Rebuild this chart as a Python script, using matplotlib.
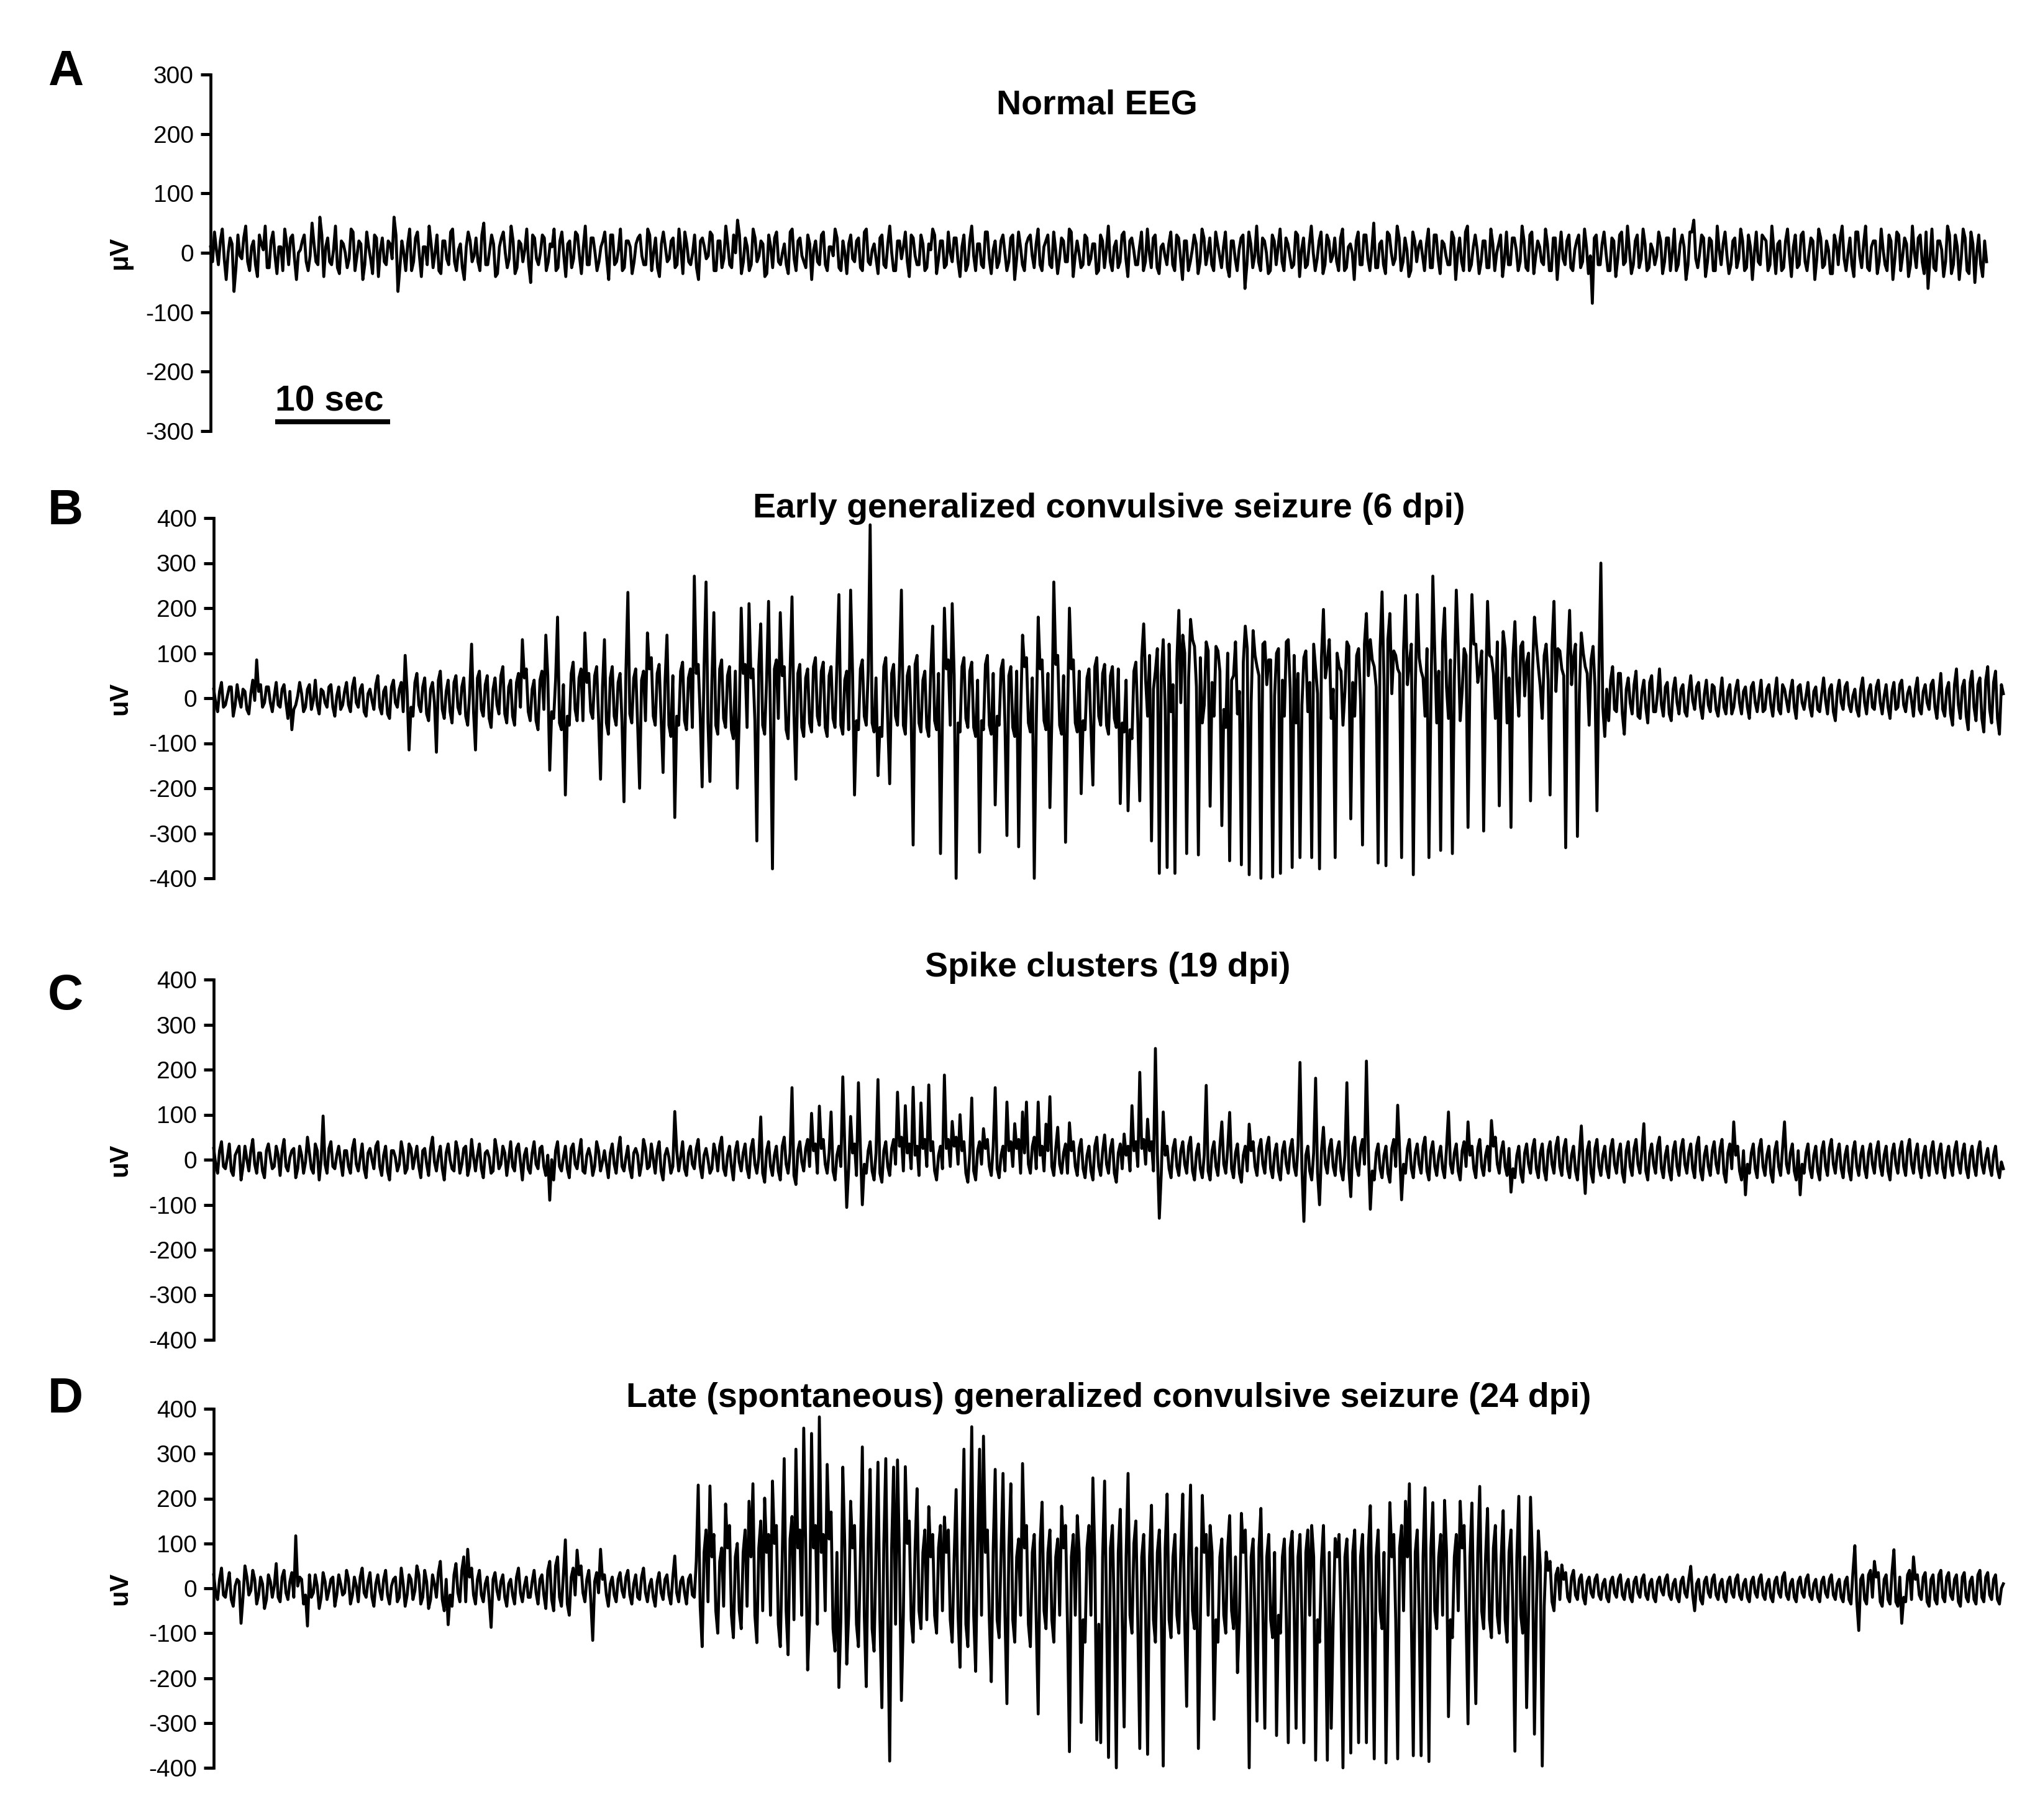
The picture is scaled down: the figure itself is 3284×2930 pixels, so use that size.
import numpy as np
import matplotlib
matplotlib.use("Agg")
import matplotlib.pyplot as plt

plt.rcParams['font.family'] = ['Liberation Sans', 'DejaVu Sans']
plt.rcParams['axes.unicode_minus'] = False

# ---------------- data ----------------
DT = 0.3396  # seconds per coarse sample (10 s scale bar); mid samples sit halfway

panel_letters = ['A', 'B', 'C', 'D']
titles = ['Normal EEG',
          'Early generalized convulsive seizure (6 dpi)',
          'Spike clusters (19 dpi)',
          'Late (spontaneous) generalized convulsive seizure (24 dpi)']
ylabels = ['μV', 'uV', 'uV', 'uV']
yticks_A = [-300, -200, -100, 0, 100, 200, 300]
yticks_BCD = [-400, -300, -200, -100, 0, 100, 200, 300, 400]
scale_bar_s = 10

A_trace = [
    10, 35, -20, 40, -45, 25, -65, 30, -10, 45, -30, 20,
    -40, 15, 45, -25, 35, -35, 10, 40, -20, 30, -45, 5,
    30, -30, 50, -15, 60, -40, 25, -20, 45, -35, 15, -25,
    40, -30, 20, -45, 35, -10, 30, -40, 25, -20, 15, 60,
    -65, 20, -30, 40, -15, 35, -40, 10, 45, -25, 30, -35,
    20, -20, 40, -30, 15, -45, 35, -15, 25, -30, 50, -20,
    30, -40, 10, 35, -25, 45, -35, 20, -15, 40, -50, 25,
    -20, 30, -30, 15, 40, -25, 35, -40, 20, -10, 30, -35,
    45, -20, 25, -30, 10, 35, -45, 30, -15, 40, -25, 20,
    -35, 15, 30, -20, 40, -30, 25, -40, 35, -15, 20, -25,
    40, -35, 15, -20, 30, -45, 25, -10, 35, -30, 20, -25,
    45, -20, 30, 55, -35, 25, -30, 40, -15, 20, -40, 30,
    -25, 35, -20, 15, -35, 40, -30, 25, -15, 30, -45, 20,
    -20, 35, -30, 10, 40, -25, 20, -35, 30, -15, 25, -30,
    40, -20, 15, -35, 30, -25, 45, -30, 20, -10, 35, -40,
    25, -20, 30, -30, 15, 40, -35, 20, -25, 35, -15, 25,
    -40, 30, -20, 45, -30, 15, -25, 35, -35, 20, -15, 30,
    -30, 25, -45, 35, -20, 15, 30, -25, 40, -30, 20, -20,
    35, -35, 25, -15, 40, -40, 20, -25, 30, -20, 15, -35,
    30, -25, 45, -30, 20, -15, 35, -40, 25, -20, 10, -30,
    40, -25, 30, -35, 15, -20, 35, -30, 25, -45, 20, -15,
    30, -35, 40, -20, 25, -30, 15, -25, 35, -40, 20, -30,
    25, -60, 35, -25, 45, -30, 20, -35, 30, -20, 40, -30,
    15, -25, 35, -40, 25, -20, 45, -30, 20, -35, 30, -15,
    25, -30, 40, -25, 15, -45, 35, -20, 30, -30, 50, -25,
    20, -35, 30, -20, 45, -30, 25, -40, 35, -15, 20, -30,
    40, -25, 30, -35, 15, -20, 35, -45, 25, -30, 45, -20,
    30, -35, 20, -25, 40, -30, 15, -40, 35, -20, 25, -30,
    45, -25, 30, -35, 20, -15, 40, -30, 25, -45, 35, -20,
    30, -30, 20, -25, 40, -35, -85, 30, -20, 35, -30, 25,
    -40, 30, -20, 45, -35, 20, -25, 40, -30, 15, -20, 35,
    -35, 25, -30, 40, -20, 30, -45, 35, 55, -25, 30, -40,
    25, -30, 45, -20, 35, -35, 20, -25, 40, -30, 30, -45,
    35, -20, 25, -30, 45, -35, 20, -25, 40, -40, 30, -20,
    35, -30, 25, -45, 40, -25, 20, -35, 30, -20, 45, -30,
    25, -40, 35, -25, 45, -30, 20, -35, 40, -20, 30, -45,
    35, -30, 25, -40, 45, -25, 30, -35, -60, 40, -30, 20,
    -40, 45, -35, 30, -45, 40, -30, 35, -50, 30, -40, -15,
]
A_mid = [
    -15, 5, 20, -10, 0, 15, -25, -5, 25, -15, 10, -20, 30,
    5, -25, 20, -5, 10, -30, 15, 25, -10, 0, 20, -15, -5,
    15, -20, 30, 10, -15, 5, -25, 20, 0, -10, 35, -5, 15,
    -20, 10, -35, 25, 5, -15, 20, -10, 30, -25, 0, 15, -30,
    25, -5, 10, -20, 15, 0, -30, 20, -10, 35, -15, 5, -25,
    10, 20, -5, -15, 30, -20, 5, 15, -35, 25, 0, -10, 20,
    -25, 15, 5, -20, 30, -10, 0, 25, -15, 10, -30, 20, -5,
    15, -25, 35, -5, 10, -20, 25, 0, -15, 20, -10, 30, -20,
    5, -30, 20, 10, -15, 25, -5, -20, 30, 0, -25, 15, 10,
    -10, 25, -20, 5, 35, -15, 0, -25, 20, 10, -5, 30, -30,
    20, -10, 15, -25, 0, 30, -15, 10, -20, 25, -5, 15, -35,
    10, 25, -15, 0, -20, 35, -10, 20, -5, -25, 15, 5, -15,
    30, -20, 10, -5, 25, -30, 0, 15, -10, 20, -25, 35, -15,
    5, -10, 25, -20, 15, 0, -30, 20, 10, -15, 30, -5, -20,
    15, -25, 5, 30, -10, 20, -20, 0, 25, -15, 10, -30, 20,
    -5, 15, -20, 35, -10, 5, -25, 20, 0, -15, 30, -10, 10,
    -30, 25, -5, 15, -20, 10, 30, -25, 5, -10, 20, -15, 35,
    -5, 0, -20, 25, -10, 15, -30, 20, 5, -15, 10, -25, 30,
    -10, 20, 5, -20, 35, -15, 0, 25, -25, 10, -5, 15, -20,
    30, -10, 20, -30, 5, 15, -15, 25, 0, -20, 35, -5, 10,
    -25, 20, -10, 5, 30, -20, 15, -5, -15, 25, 0, -30, 20,
    10, -15, 25, -5, -20, 30, 5, -25, 15, 0, -10, 35, -20,
    20, -5, -15, 25, -30, 10, 0, 20, -20, 30, -10, 5, -25,
    15, -20, 35, 0, -10, 25, -15, 5, -30, 20, 10, -5, 15,
    -25, 30, -10, 20, -5, -20, 25, 0, -15, 35, -30, 10, 5,
    -15, 20, -25, 15, 0, 30, -10, -20, 25, 5, -15, 20, -30,
    35, -5, 10, -20, 15, -30, 25, 0, -10, 20, -25, 5, 30,
    -15, 10, -5, 25, -20, 15, 0, -30, 20, -10, 35, -15, 5,
    -20, 30, -10, 15, -25, 5, -5, 20, -15, 25, 0, -30, 15,
    10, -20, 35, -10, 0, 25, -15, 20, -30, 5, 15, -5, -20,
    25, -10, 20, -25, 10, 0, -15, 30, 20, -20, 5, 15, -30,
    20, -5, 10, -25, 30, -15, 0, 20, -10, 25, -20, 5, -35,
    15, 25, -10, 0, -20, 35, -5, 15, -25, 10, 20, -15, 5,
    -30, 20, -10, 30, -5, 15, -20, 0, 25, -15, 35, -10, -25,
    20, 5, -15, 30, -20, 10, -10, 25, -35, 15, 0, -20, 20,
]

B_background = [
    20, -30, 35, -15, 25, -40, 30, -20, 15, -35, 40, -25, 30, -10, 25, -30, 35,
    -20, 30, -45, 25, -15, 35, -30, 20, -25, 40, -35, 15, -20, 30, -40, 25, -15,
    35, -30, 45, -20, 30, -40, 20, -25, 50, -35, 25, -45, 40, -20, 35, -50, 30,
    -40, 55, -30, 45, -50, 35, -25, 60, -45, 40, -55, 50, -35, 45, -60, 30, -45,
    60, -40, 50, -65, 45, -35, 70, -55, 40, -60, 55, -45, 65, -50, 40, -70, 60,
    -55, 75, -45, 60, -70, 50, -60, 80, -50, 65, -75, 55, -45, 70, -65, 50, -80,
    70, -60, 55, -75, 85, -55, 65, -80, 60, -70, 90, -60, 75, -65, 55, -85, 70,
    -60, 80, -70, 65, -85, 75, -55, 90, -75, 60, -80, 85, -65, 70, -90, 80, -60,
    75, -85, 65, -70, 90, -80, 60, -75, 85, -65, 70, -90, 80, -55, 75, -85, 65,
    -75, 90, -60, 80, -85, 70, -65, 95, -80, 60, -90, 75, -70, 85, -60, 80, -75,
    65, -85, 90, -70, 75, -60, 85, -80, 70, -65, 95, -75, 60, -85, 80, -70, 75,
    -60, 85, -80, 70, -75, 90, -65, 80, -85, 60, -70, 95, -80, 75, -60, 85, -75,
    70, -85, 80, -60, 90, -75, 65, -80, 85, -70, 75, -65, 95, -80, 70, -60, 85,
    -75, 80, -70, 65, -85, 90, -60, 75, -80, 70, -65, 85, -75, 60, -90, 80, -70,
    110, -40, 120, 60, -50, 130, 90, -30, 100, -60, 140, 70, -45, 115, 85, -55, 125,
    60, -40, 105, 80, -65, 120, 50, -35, 135, 95, -50, 110, 70, -45, 125, 85, -60,
    100, 60, -40, 130, 75, -55, 115, 90, -30, 120, 65, -50, 140, 80, -45, 105, 70,
    -60, 125, 55, -40, 110, 85, -55, 130, 70, -35, 120, 90, -50, 105, 65, -45, 135,
    80, -60, 115, 60, -40, 125, 95, -55, 100, 75, -45, 130, 70, -50, 110, 85, -35,
    120, 65, -60, 105, 90, -45, 130, 75, -55, 115, 60, -40, 125, 80, -50, 100, 70,
    -45, 120, 85, -55, 110, 65, -40, 130, 90, -50, 105, 70, -60, 115, 80, 40, 65,
    -50, 70, -30, 55, -80, 45, -35, 60, -45, 40, -55, 50, -30, 65, -40, 35, -50,
    45, -35, 30, -40, 50, -25, 35, -45, 40, -30, 25, -40, 45, -35, 30, -20, 40,
    -35, 25, -45, 35, -30, 40, -25, 30, -40, 45, -35, 20, -30, 40, -45, 30, -25,
    35, -40, 25, -30, 45, -35, 30, -50, 40, -25, 35, -30, 20, -40, 45, -35, 30,
    -25, 40, -35, 30, -45, 35, -20, 40, -30, 25, -40, 45, -35, 30, -25, 40, -45,
    55, -40, 35, -60, 65, -45, 40, -70, 60, -50, 45, -75, 70, -55, 60, -80, 10,
]
B_mid = [
    -10, 15, -20, 5, 25, -15, 0, 20, -25, 10, -5, 15, -20, 25, -10, 5, -15,
    20, -10, 15, -25, 5, 10, -20, 30, -5, -15, 20, -10, 25, -20, 5, -25, 15,
    -15, 25, -10, 20, -30, 10, -5, 30, -20, 15, -35, 25, -10, 20, -30, 15, -20,
    35, -15, 25, -35, 20, -10, 40, -25, 15, -30, 35, -20, 25, -40, 10, -30, 45,
    -25, 30, -45, 20, -15, 50, -35, 25, -40, 35, -20, 45, -30, 20, -50, 40, -25,
    50, -30, 40, -55, 30, -40, 55, -25, 45, -50, 35, -30, 50, -45, 25, -55, 45,
    -40, 35, -55, 60, -35, 45, -60, 40, -50, 65, -40, 55, -45, 35, -60, 50, -40,
    60, -50, 45, -65, 55, -35, 70, -55, 40, -60, 65, -45, 50, -70, 60, -40, 55,
    -65, 45, -50, 70, -60, 40, -55, 65, -45, 50, -70, 60, -35, 55, -65, 45, -55,
    70, -40, 60, -65, 50, -45, 75, -60, 40, -70, 55, -50, 65, -40, 60, -55, 45,
    -65, 70, -50, 55, -40, 65, -60, 50, -45, 75, -55, 40, -65, 60, -50, 55, -40,
    65, -60, 50, -55, 70, -45, 60, -65, 40, -50, 75, -60, 55, -40, 65, -55, 50,
    -65, 60, -40, 70, -55, 45, -60, 65, -50, 55, -45, 75, -60, 50, -40, 65, -55,
    60, -50, 45, -65, 70, -40, 55, -60, 50, -45, 65, -55, 40, -70, 60, -50, 90,
    40, 95, 20, 110, 50, -20, 120, 30, 85, -10, 100, 45, 130, 25, 90, -15, 105,
    35, 115, 60, -25, 100, 40, 125, 15, 80, 110, -10, 95, 50, 120, 30, 85, 5,
    110, 40, 125, 20, 95, 55, -15, 105, 35, 120, 10, 90, 45, 130, 20, 100, 60,
    15, 115, 35, 95, -5, 120, 50, 85, 25, 110, 40, 130, 10, 95, 55, 105, 30,
    120, 20, 90, 45, 110, -10, 100, 60, 125, 25, 85, 40, 115, 15, 95, 50, 120,
    35, 105, 10, 95, 55, 125, 20, 110, 45, 90, 30, 115, 5, 100, 60, 120, 25,
    95, 40, 115, 15, 105, 50, 90, 30, 120, 10, 100, 55, 85, 25, 60, -20, 20,
    40, -25, 55, -35, 20, -10, 30, -40, 15, -20, 35, -30, 10, -15, 25, -35, 20,
    -10, 20, -30, 15, -5, 25, -20, 10, -15, 30, -25, 5, -20, 15, -35, 20, -10,
    15, -20, 25, -10, 5, -30, 20, -15, 10, -25, 30, -5, 15, -20, 25, -10, 5,
    -20, 15, -25, 10, -5, 20, -30, 15, -10, 25, -15, 5, -25, 20, -10, 15, -20,
    25, -10, 5, -20, 15, -25, 30, -15, 10, -5, 20, -25, 15, -10, 30, -20, 10,
    -25, 20, -35, 30, -15, 25, -40, 35, -20, 30, -45, 40, -25, 35, -45, 30, 0,
]
B_spike_idx = [
    11, 20, 49, 50, 57, 66, 67, 79, 85, 86, 88, 90, 95, 99, 100, 105, 106, 109,
    111, 115, 116, 118, 123, 125, 126, 127, 128, 134, 135, 137, 139, 140, 142,
    143, 145, 148, 149, 160, 163, 164, 168, 170, 173, 176, 179, 184, 186, 187,
    189, 190, 196, 200, 203, 206, 207, 210, 211, 214, 215, 218, 219, 222, 225,
    232, 234, 237, 238, 240, 242, 244, 246, 247, 249, 250, 252, 255, 258, 260,
    263, 264, 265, 266, 268, 271, 273, 276, 278, 281, 283, 284, 287, 291, 294,
    295, 298, 299, 300, 301, 304, 305, 307, 308, 311, 312, 314, 315, 317, 318,
    321, 322, 325, 326, 329, 330, 332, 333, 337, 338, 342, 343, 346, 347, 349,
    350, 354, 355, 356,
]
B_spike_val = [
    85, -70, 95, -115, -120, 120, -115, 130, 140, -160, 180, -215, 145, -180, 130, -230, 235, -200,
    145, -165, 140, -265, 271, -197, 258, -185, 190, -200, 200, 210, -317, 165, 215,
    -379, 190, 225, -180, 230, 240, -215, 385, -172, -190, 240, -326, 160, -345, 200,
    210, -400, -342, -237, -305, -330, 140, -400, 180, -243, 258, -320, 200, -212, -193,
    -234, -250, -228, 165, -317, -389, -376, -389, 195, -345, 175, -348, -240, -283, -361,
    -370, 160, -392, 150, -400, -397, -389, -376, -354, -354, -379, 197, -354, -268, -326,
    188, -366, 236, -372, 188, -354, 228, -392, 230, -354, 271, -338, 200, -345, 240,
    -287, 230, -295, 215, -239, 148, -287, 170, -228, 180, -215, 215, -332, 195, -307,
    145, -250, 300, -85,
]

C_background = [
    25, -30, 40, -20, 35, -35, 20, -45, 30, -25, 45, -30, 15, -40, 35, -20, 30,
    -35, 45, -25, 20, -40, 30, -30, 50, -20, 35, -45, 25, -30, 40, -20, 30, -35,
    20, -30, 45, -25, 35, -40, 25, -20, 40, -35, 30, -45, 20, -25, 40, -30, 35,
    -20, 30, -40, 25, -35, 50, -25, 30, -45, 35, -20, 40, -30, 25, -35, 45, -25,
    35, -40, 20, -30, 45, -20, 30, -35, 40, -25, 35, -45, 25, -30, 40, -20, 30,
    -35, 25, -45, 40, -25, 30, -40, 35, -20, 45, -30, 25, -35, 40, -25, 20, -40,
    35, -30, 50, -25, 30, -40, 25, -35, 45, -20, 35, -30, 40, -45, 25, -30, 35,
    -25, 40, -35, 30, -20, 45, -40, 25, -30, 35, -25, 50, -35, 30, -45, 40, -25,
    35, -40, 45, -30, 25, -50, 40, -35, 30, -45, 50, -30, 35, -55, 40, -25, 45,
    -40, 35, -50, 45, -30, 40, -45, 30, -35, 50, -40, 35, -55, 45, -30, 40, -45,
    35, -50, 40, -35, 45, -30, 50, -45, 35, -40, 30, -55, 45, -35, 40, -45, 30,
    -40, 45, -35, 50, -30, 40, -50, 35, -45, 40, -30, 45, -35, 50, -40, 30, -45,
    40, -35, 45, -50, 35, -30, 50, -40, 30, -45, 40, -35, 45, -30, 35, -50, 40,
    -35, 45, -40, 30, -45, 50, -35, 40, -30, 45, -50, 35, -40, 30, -45, 40, -35,
    45, -30, 40, -45, 35, -50, 30, -40, 45, -35, 40, -30, 50, -45, 35, -40, 30,
    -45, 40, -35, 50, -30, 45, -40, 35, -50, 30, -45, 40, -35, 45, -30, 50, -40,
    35, -45, 40, -30, 45, -35, 50, -40, 30, -45, 35, -50, 40, -30, 45, -35, 40,
    -45, 30, -40, 50, -35, 45, -30, 40, -45, 35, -40, 30, -50, 45, -35, 40, -30,
    45, -40, 35, -30, 50, -45, 40, -35, 30, -40, 45, -30, 35, -45, 40, -35, 30,
    -40, 45, -35, 30, -45, 50, -30, 40, -35, 45, -40, 30, -50, 35, -30, 45, -40,
    35, -45, 40, -30, 50, -35, 45, -40, 30, -45, 35, -30, 40, -50, 45, -35, 30,
    -40, 45, -30, 35, -50, 40, -35, 45, -30, 40, -45, 35, -30, 50, -40, 30, -45,
    40, -35, 45, -30, 35, -40, 50, -45, 30, -35, 40, -30, 45, -50, 35, -40, 30,
    -45, 40, -30, 35, -40, 45, -35, 30, -50, 40, -35, 45, -30, 35, -45, 40, -30,
    35, -40, 30, -45, 40, -35, 45, -30, 35, -40, 30, -45, 40, -35, 30, -40, 35,
    -30, 40, -35, 30, -45, 35, -30, 40, -35, 45, -30, 35, -40, 30, -35, 40, -30,
    35, -40, 30, -35, 40, -30, 35, -40, 30, -35, 40, -30, 25, -35, 30, -40, -20,
]
C_mid = [
    -10, 20, -15, 5, -25, 10, 30, -15, 0, 20, -10, 15, -25, 20, 5, -15, 10,
    20, -15, 5, 25, -20, 10, -5, 15, -30, 20, 0, -10, 25, -15, 10, -5, 20,
    -15, 25, -10, 5, -20, 15, 0, 30, -15, 10, -25, 20, 5, -10, 15, -20, 25,
    5, -15, 20, -10, 25, -5, 10, -20, 15, 0, -25, 20, -10, 30, -15, 5, 10,
    -20, 15, 5, -25, 20, -10, 15, 0, -15, 25, -5, 10, -20, 15, -10, 25, -15,
    10, 0, 20, -15, 5, -20, 25, -10, 15, -25, 10, 5, -15, 20, -5, -10, 15,
    -10, 20, -15, 5, -20, 15, 10, -10, 25, -15, 0, 20, -25, 10, 5, -15, 20,
    5, -20, 15, -10, 25, -15, 10, 0, -20, 15, 30, -20, 10, -15, 20, -5, 15,
    -20, 25, -10, 5, -30, 20, -15, 10, -25, 30, -10, 15, -35, 20, -5, 25, -15,
    20, -30, 25, -10, 15, -25, 10, -15, 30, -20, 15, -35, 25, -10, 20, -25, 15,
    -30, 20, -15, 25, -10, 30, -25, 15, -20, 10, -35, 25, -15, 20, -25, 10, -20,
    25, -15, 30, -10, 20, -30, 15, -25, 20, -10, 25, -15, 30, -20, 10, -25, 20,
    -15, 25, -30, 15, -10, 30, -20, 10, -25, 20, -15, 25, -10, 15, -30, 20, -15,
    25, -20, 10, -25, 30, -15, 20, -10, 25, -30, 15, -20, 10, -25, 20, -15, 25,
    -10, 20, -25, 15, -30, 10, -20, 25, -15, 20, -10, 30, -25, 15, -20, 10, -25,
    20, -15, 30, -10, 25, -20, 15, -30, 10, -25, 20, -15, 25, -10, 30, -20, 15,
    -25, 20, -10, 25, -15, 30, -20, 10, -25, 15, -30, 20, -10, 25, -15, 20, -25,
    10, -20, 30, -15, 25, -10, 20, -25, 15, -20, 10, -30, 25, -15, 20, -10, 25,
    -20, 15, -10, 30, -25, 20, -15, 10, -20, 25, -10, 15, -25, 20, -15, 10, -20,
    25, -15, 10, -25, 30, -10, 20, -15, 25, -20, 10, -30, 15, -10, 25, -20, 15,
    -25, 20, -10, 30, -15, 25, -20, 10, -25, 15, -10, 20, -30, 25, -15, 10, -20,
    25, -10, 15, -30, 20, -15, 25, -10, 20, -25, 15, -10, 30, -20, 10, -25, 20,
    -15, 25, -10, 15, -20, 30, -25, 10, -15, 20, -10, 25, -30, 15, -20, 10, -25,
    20, -10, 15, -20, 25, -15, 10, -30, 20, -15, 25, -10, 15, -25, 20, -10, 15,
    -20, 10, -25, 20, -15, 25, -10, 15, -20, 10, -25, 20, -15, 10, -20, 15, -10,
    20, -15, 10, -25, 15, -10, 20, -15, 25, -10, 15, -20, 10, -15, 20, -10, 15,
    -20, 10, -15, 20, -10, 15, -20, 10, -15, 20, -10, 5, -15, 10, -20, -5, 0,
]
C_spike_idx = [
    28, 86, 118, 140, 148, 153, 155, 158, 161, 162, 163, 165, 166, 170, 175, 177,
    179, 181, 183, 187, 189, 191, 194, 197, 200, 203, 205, 207, 208, 211, 213,
    214, 216, 219, 228, 233, 235, 237, 239, 241, 242, 243, 254, 258, 260, 265,
    278, 279, 282, 283, 284, 290, 291, 295, 296, 303, 304, 316, 321, 327, 332,
    350, 351, 366, 389, 392, 402, 406,
]
C_spike_val = [
    97, -90, 107, 95, 160, 103, 119, 106, 184, -106, 96, 171, -100, 178, 150, 120,
    161, 126, 166, 188, 85, 100, 137, 69, 160, 128, 80, 106, 128, 128, 79,
    140, 72, 82, 55, 57, 120, 194, 90, 247, -130, 106, 165, 84, 105, 79,
    216, -137, 181, -100, 72, 171, -82, 219, -110, 121, -89, 106, 84, 87, -72,
    75, -75, 80, 84, -78, 84, -78,
]

D_background = [
    30, -25, 45, -20, 35, -40, 20, -30, 50, -15, 40, -35, 25, -45, 30, -20, 55,
    -30, 40, -25, 35, -40, 25, -35, 45, -20, 30, -45, 35, -25, 20, -40, 30, -15,
    40, -35, 25, -30, 45, -20, 35, -40, 30, -25, 40, -35, 20, -30, 45, -40, 30,
    -25, 50, -35, 40, -45, 30, -20, 60, -50, 35, -40, 55, -30, 70, -55, 45, -35,
    40, -30, 25, -45, 35, -25, 30, -40, 20, -35, 45, -30, 25, -20, 40, -35, 30,
    -45, 60, -50, 70, -40, 55, -60, 45, -35, 50, -30, 40, -45, 35, -25, 30, -40,
    25, -30, 35, -20, 40, -35, 30, -25, 45, -30, 20, -40, 35, -25, 30, -35, 40,
    -30, 25, -35, 30, -20, 110, -80, 130, -60, 120, -100, 90, -70, 140, -110, 100, -90,
    130, -70, 110, -120, 150, -90, 120, -100, 140, -130, 110, -80, 160, -120, 130, -110, 150,
    -100, 140, -130, 120, -90, 170, -140, 130, -120, 150, -110, 140, -130, 120, -100, 160, -140,
    130, -120, 150, -110, 140, -130, 120, -100, 150, -120, 140, -90, 130, -110, 120, -100, 140,
    -80, 130, -120, 110, -90, 140, -130, 120, -110, 150, -100, 130, -120, 140, -110, 120, -100,
    130, -120, 110, -100, 140, -130, 120, -110, 150, -90, 130, -120, 110, -100, 140, -130, 120,
    -110, 130, -120, 140, -100, 120, -130, 110, -90, 140, -120, 130, -110, 120, -100, 150, -130,
    120, -100, 110, -120, 130, -90, 140, -110, 120, -100, 130, -120, 110, -90, 140, -110, 120,
    -100, 130, -120, 110, -100, 140, -90, 120, -110, 130, -100, 110, -120, 140, -90, 120, -110,
    130, -100, 110, -120, 140, -90, 120, -110, 130, -100, 110, -120, 100, -90, 130, -110, 120,
    -100, 110, -90, 130, -110, 120, -100, 140, -120, 110, -90, 130, -100, 120, -110, 140, -90,
    120, -110, 130, -100, 110, -120, 140, -90, 120, -100, 130, -110, 120, -90, 140, -100, 110,
    -120, 130, -90, 120, -110, 140, -100, 110, -120, 130, -90, 120, -100, 110, -80, 90, -70,
    80, -60, 60, -50, 45, -40, 35, -30, 40, -25, 30, -35, 25, -20, 30, -25, 20,
    -30, 25, -20, 30, -25, 20, -30, 25, -20, 30, -25, 20, -30, 25, -15, 30, -25,
    20, -30, 25, -20, 30, -25, 20, -35, 25, -20, 30, -25, 20, -30, 25, -20, 30,
    -25, 20, -30, 25, -20, 30, -25, 20, -30, 25, -20, 35, -25, 20, -30, 25, -20,
    30, -25, 20, -30, 25, -20, 30, -25, 20, -30, 25, -35, 45, -40, 30, -35, 40,
    -30, 35, -40, 30, -35, 45, -40, 35, -30, 40, -35, 30, -25, 35, -40, 30, -35,
    40, -30, 35, -25, 30, -40, 35, -30, 25, -35, 40, -30, 35, -25, 30, -35, 10,
]
D_mid = [
    -10, 20, -15, 10, -25, 5, 15, -20, 25, -5, 20, -15, 10, -25, 15, 5, -20,
    25, -10, 15, -20, 5, 20, -15, 30, -10, 5, -20, 15, -5, 25, -15, 10, -10,
    20, -15, 5, 25, -10, 15, -20, 10, -5, 20, -15, 5, 25, -20, 10, -15, 20,
    -5, 30, -20, 15, -25, 10, 35, -25, 20, -15, 30, -10, 40, -30, 25, -15, 20,
    -15, 10, -25, 20, -5, 15, -20, 10, -15, 25, -10, 5, -20, 15, -10, 20, -15,
    40, -25, 50, -20, 30, -35, 25, -15, 30, -10, 20, -25, 15, -10, 20, -15, 10,
    -15, 20, -5, 25, -15, 10, -20, 25, -10, 5, -20, 15, -10, 20, -15, 25, -10,
    15, -10, 20, -15, 60, -40, 80, -30, 70, -50, 60, -40, 90, -60, 70, -50, 80,
    -40, 70, -60, 90, -50, 80, -60, 100, -80, 70, -50, 110, -70, 90, -60, 100, -70,
    90, -80, 80, -50, 110, -90, 80, -70, 100, -60, 90, -80, 70, -60, 110, -90, 80,
    -70, 100, -60, 90, -80, 70, -60, 100, -70, 90, -50, 80, -70, 70, -60, 90, -50,
    80, -70, 70, -60, 90, -80, 80, -60, 100, -60, 80, -70, 90, -70, 80, -60, 90,
    -70, 70, -60, 90, -80, 80, -70, 100, -50, 80, -70, 70, -60, 90, -80, 70, -60,
    80, -70, 90, -60, 70, -80, 70, -50, 90, -70, 80, -70, 70, -60, 100, -80, 70,
    -60, 70, -70, 80, -50, 90, -70, 70, -60, 80, -70, 70, -50, 90, -70, 80, -60,
    80, -70, 70, -60, 90, -50, 70, -70, 80, -60, 70, -70, 90, -50, 70, -70, 80,
    -60, 70, -70, 90, -50, 70, -70, 80, -60, 70, -70, 60, -50, 80, -70, 70, -60,
    70, -50, 80, -70, 70, -60, 90, -70, 70, -50, 80, -60, 70, -70, 90, -50, 70,
    -70, 80, -60, 70, -70, 90, -50, 70, -60, 80, -70, 70, -50, 90, -60, 70, -70,
    80, -50, 70, -70, 90, -60, 70, -70, 80, -50, 70, -60, 70, -50, 60, -40, 50,
    -40, 40, -30, 30, -25, 20, -20, 25, -15, 20, -20, 15, -10, 20, -15, 10, -20,
    15, -10, 20, -15, 10, -20, 15, -10, 20, -15, 10, -20, 15, -5, 20, -15, 10,
    -20, 15, -10, 20, -15, 10, -25, 15, -10, 20, -15, 10, -20, 15, -10, 20, -15,
    10, -20, 15, -10, 20, -15, 10, -20, 15, -10, 25, -15, 10, -20, 15, -10, 20,
    -15, 10, -20, 15, -10, 20, -15, 10, -20, 15, -25, 35, -30, 20, -25, 30, -20,
    25, -30, 20, -25, 35, -30, 25, -20, 30, -25, 20, -15, 25, -30, 20, -25, 30,
    -20, 25, -15, 20, -30, 25, -20, 15, -25, 30, -20, 25, -15, 20, -25, 0, 0,
]
D_spike_idx = [
    7, 21, 24, 60, 65, 71, 90, 93, 97, 99, 118, 124, 125, 127, 131, 137, 138, 139,
    141, 143, 146, 147, 149, 151, 152, 153, 155, 157, 160, 161, 162, 163, 166, 167,
    168, 170, 171, 172, 173, 174, 175, 176, 177, 180, 183, 187, 190, 191, 192, 194,
    195, 196, 197, 199, 200, 202, 203, 204, 207, 211, 212, 217, 219, 221, 222, 225,
    226, 227, 228, 229, 231, 232, 233, 234, 237, 239, 240, 243, 244, 248, 249, 250,
    252, 253, 255, 256, 260, 262, 263, 265, 267, 268, 269, 272, 275, 276, 277, 279,
    281, 282, 284, 285, 286, 287, 289, 291, 293, 295, 296, 297, 298, 300, 301, 303,
    305, 306, 307, 309, 310, 311, 312, 315, 316, 319, 321, 322, 323, 324, 326, 330,
    333, 334, 336, 337, 338, 339, 340, 341, 345, 378, 379, 420, 421, 425, 430, 432,
    435,
]
D_spike_val = [
    -78, 117, -84, -81, 87, -87, 108, 85, -116, 87, 72, 230, -130, 228, 188, 194, 233, -121,
    201, 239, 289, -148, 310, 357, -182, 345, 382, 276, -221, 270, -169, 194, 315, -219,
    265, 281, -266, 289, -385, 270, 286, -250, 271, 222, 182, 159, 220, -176, 310, 360,
    -185, 310, 339, -208, 265, 256, -257, 233, 278, -280, 192, 183, -364, 162, -299, 246,
    -338, -344, 239, -377, -400, 176, -309, 256, -357, -370, 185, -396, 210, 210, -263, 230,
    -357, 207, 140, -292, 162, -188, 167, -400, -296, 178, -312, -328, -344, 127, -312, -344,
    140, -383, 140, -383, -312, 111, -400, -367, -344, -344, 184, -380, 130, -389, 191, -380,
    194, 233, -373, -373, 224, -386, 191, 196, -286, 194, -302, 190, -257, 227, 178, 173,
    -363, 205, -266, 203, -325, 128, -396, 81, 52, 49, -50, 95, -94, 60, 86, -78,
    70,
]


# ---------------- build traces ----------------
def build(coarse, mid, idx=None, val=None):
    c = np.array(coarse, dtype=float)
    if idx is not None:
        c[np.array(idx)] = np.array(val, dtype=float)
    m = np.array(mid, dtype=float)[:len(c) - 1]
    t = np.concatenate([np.arange(len(c)), np.arange(len(m)) + 0.5]) * DT
    y = np.concatenate([c, m])
    order = np.argsort(t, kind='stable')
    return t[order], y[order]


traces = [build(A_trace, A_mid),
          build(B_background, B_mid, B_spike_idx, B_spike_val),
          build(C_background, C_mid, C_spike_idx, C_spike_val),
          build(D_background, D_mid, D_spike_idx, D_spike_val)]

# ---------------- layout (pixels of the 3284x2930 figure) ----------------
W, H = 3284, 2930
fig = plt.figure(figsize=(W / 100, H / 100), dpi=100)

# left, right, top(y of max tick), bottom(y of min tick)
boxes = [(339, 3198, 120, 694),
         (344, 3225, 834, 1414),
         (344, 3225, 1577, 2157),
         (344, 3225, 2268, 2846)]
letter_baselines = [137, 844, 1625, 2274]
title_pos = [(1766, 183), (1785, 833), (1783, 1572), (1785, 2265)]

for k in range(4):
    l, r, t, b = boxes[k]
    ax = fig.add_axes([l / W, 1 - b / H, (r - l) / W, (b - t) / H])
    tt, y = traces[k]
    ax.plot(tt, y, color='black', lw=3.4, clip_on=False)
    ticks = yticks_A if k == 0 else yticks_BCD
    ax.set_xlim(0, tt[-1])
    ax.set_ylim(ticks[0], ticks[-1])
    for s in ['top', 'right', 'bottom']:
        ax.spines[s].set_visible(False)
    ax.spines['left'].set_linewidth(3.4)
    ax.set_xticks([])
    ax.set_yticks(ticks)
    ax.set_yticklabels([str(v) for v in ticks])
    ax.tick_params(axis='y', direction='out', length=11.5, width=3.6,
                   labelsize=28, pad=8)
    ax.patch.set_visible(False)

    zero_y = t + (b - t) / 2
    fig.text(193 / W, 1 - zero_y / H, ylabels[k], rotation=90, ha='center',
             va='center', fontsize=30, fontweight='bold')
    fig.text(77 / W, 1 - letter_baselines[k] / H, panel_letters[k],
             ha='left', va='baseline', fontsize=57, fontweight='bold')
    cx, by = title_pos[k]
    fig.text(cx / W, 1 - by / H, titles[k], ha='center', va='baseline',
             fontsize=40, fontweight='bold')

    if k == 0:
        px_per_s = 18.5
        x0 = (443 - l) / px_per_s
        ax.plot([x0, x0 + scale_bar_s], [-284, -284], color='black', lw=5.8,
                solid_capstyle='butt', clip_on=False)
        ax.text(x0, -266.5, f'{scale_bar_s} sec', ha='left', va='baseline',
                fontsize=41, fontweight='bold')

fig.savefig('out.png', dpi=100)
